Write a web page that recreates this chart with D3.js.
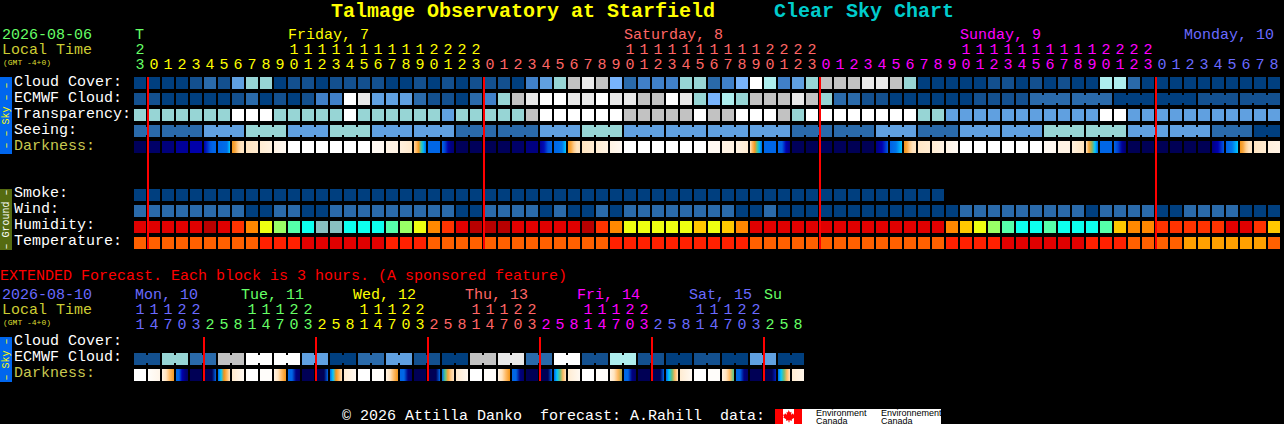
<!DOCTYPE html>
<html>
<head>
<meta charset="utf-8">
<title>Clear Sky Chart</title>
<script src="https://cdn.jsdelivr.net/npm/d3@7"></script>
<style>
body { margin: 0; background: #000; }
svg { display: block; }
text { font-family: "Liberation Mono", monospace; font-size: 15px; white-space: pre; }
.block { shape-rendering: crispEdges; }
</style>
</head>
<body>
<script>
// hourly forecast, one entry per block
var hours = [23,0,1,2,3,4,5,6,7,8,9,10,11,12,13,14,15,16,17,18,19,20,21,22,23,
	0,1,2,3,4,5,6,7,8,9,10,11,12,13,14,15,16,17,18,19,20,21,22,23,
	0,1,2,3,4,5,6,7,8,9,10,11,12,13,14,15,16,17,18,19,20,21,22,23,
	0,1,2,3,4,5,6,7,8];
var dayLabels = ["T", "Friday, 7", "Saturday, 8", "Sunday, 9", "Monday, 10"];
var dayLabelCols = [0, 11, 35, 59, 75];
var dayStartCols = [0, 1, 25, 49, 73];
var dayLabelColors = ["green", "yellow", "pink", "magenta", "blue"];

var cloudCover = [0,0,0,0,1,2,1,4,6,6,0,1,1,0,1,1,1,1,0,0,1,0,1,0,1,1,1,0,3,4,6,8,9,8,5,2,3,3,3,6,6,2,3,5,10,7,3,4,6,8,8,8,9,9,8,6,0,0,0,0,0,1,1,0,1,0,1,0,0,7,7,2,0,0,0,0,0,0,0,0,0,0];
var ecmwfCloud = [1,1,0,0,0,0,0,1,2,0,1,0,1,3,3,10,9,4,4,4,2,1,1,0,2,3,6,8,9,10,10,9,9,10,9,9,8,8,10,9,6,5,7,6,8,8,8,9,8,6,2,2,1,1,0,0,0,0,0,0,1,1,1,1,2,2,2,2,2,2,0,0,0,0,0,0,1,1,1,1,1,1];
var ecmwfGroups = [1,1,1,1,1,1,1,1,1,1,1,1,1,1,1,1,1,1,1,1,1,1,1,1,1,1,1,1,1,1,1,1,1,1,1,1,1,1,1,1,1,1,1,1,1,1,1,1,1,1,1,1,1,1,1,1,1,1,1,1,1,1,1,1,3,3,3,3,3,3];
var transparency = [6,6,6,6,6,6,6,10,10,10,6,6,6,6,6,10,6,6,6,6,6,6,4,6,6,6,6,6,8,10,10,10,10,10,10,8,8,8,8,8,10,8,8,10,10,10,8,6,10,10,10,10,10,10,10,10,6,6,4,4,4,4,4,4,4,4,4,4,4,10,10,4,4,4,4,4,4,4,4,4,4,4];
var seeing = [2,2,2,2,2,4,4,4,6,6,6,4,4,4,6,6,6,4,4,4,4,4,4,2,2,2,2,2,2,4,4,4,6,6,6,4,4,4,4,4,4,4,4,4,4,4,4,2,2,2,2,2,2,4,4,4,2,2,2,4,4,4,4,4,4,6,6,6,6,6,6,4,4,4,4,4,4,2,2,2,0,0];
var seeingGroups = [2,3,3,3,3,3,3,3,3,3,3,3,3,3,3,3,3,3,3,3,3,3,3,3,3,3,3,2];
var darkness = [
	[5.8],[5.5],[5.1],[4.5],[4.1],[4.1,3.4,2.6,2.3,2.3],[2.3,2.3,2.2,2.1,1],[-0.1,-0.6,-1.5,-2,-2],[-2,-2.4],[-2.5,-2.9],[-3,-3.5],
	[-4],[-4],[-4],[-4],[-4],[-4],[-3.5],[-3],[-2.8,-2.3],[-1.6,-1,-0.2,0.6,1.2,2.2],[2.3],[2.3,3,4.2,5,5.2],[5.8],[5.8],
	[5.9],[5.8],[5.5],[5],[4.5,3.8,2.6,2.3],[2.3,2.2,2,1],[-0.1,-0.6,-1.5,-2,-2],[-2,-2.5],[-2.5,-3],[-3,-3.5],
	[-4],[-4],[-4],[-4],[-4],[-4],[-3.5],[-3],[-3,-2.5],[-2,-1,-0.2,0.5,1.2,2.2],[2.3],[2.3,2.4,4,5],[5.8],[5.9],
	[5.8],[5.8],[5.9],[5.9],[5,4,2.5],[2.4,2,1],[-0.1,-0.6,-1.5,-2,-2],[-2.2,-2.5],[-2.5,-3],[-3,-3.6],
	[-4],[-4],[-4],[-4],[-4],[-4],[-3.5],[-3],[-2.8,-2],[-2,-0.5,0.3,1,2.2],[2.3],[2.3,3,4.5,5.5],[5.9],[5.9],
	[5.9],[5.9],[5.9],[5.9],[5,4,2.5],[2.4,2,1],[-0.1,-0.6,-1.5,-2,-2],[-2,-2.5],[-2.8,-3]
];
var smoke = [0,0,0,0,0,0,0,0,0,0,0,0,0,0,0,0,0,0,0,0,0,0,0,0,0,0,0,0,0,0,0,0,0,0,0,0,0,0,0,0,0,0,0,0,0,0,0,0,0,0,0,0,0,0,0,0,0,0];
var wind = [2,2,2,2,2,2,2,2,0,0,2,2,0,0,2,2,2,2,2,2,2,2,2,0,0,2,2,2,2,0,2,0,0,2,0,2,2,2,2,2,2,2,2,0,0,2,0,0,0,0,0,0,0,0,0,0,0,0,0,2,2,2,2,2,2,2,2,2,0,2,2,2,2,0,0,2,2,2,2,0,0,0];
var humidity = [1,1,1,1,1,0,1,2,3,5,6,7,8,9,9,8,8,8,7,6,5,3,2,1,0,0,0,1,1,1,1,1,0,2,3,5,5,5,5,5,4,5,4,3,1,1,1,1,1,1,1,1,1,1,1,1,1,1,3,4,5,6,7,8,8,7,8,8,8,7,4,3,3,2,2,2,2,2,1,1,2,4];
var temperature = [2,2,2,2,2,2,2,2,2,1,1,1,0,0,0,0,0,0,1,1,1,2,2,2,2,2,2,2,2,2,2,2,2,2,1,1,1,1,1,1,1,1,1,1,2,2,2,2,2,2,2,2,2,2,2,2,2,2,1,1,1,1,0,0,0,0,0,0,1,1,1,2,2,2,2,3,3,3,3,3,3,2];
var midnightCols = [1, 25, 49, 73];

// extended forecast, 3 hours per block
var extHours = [11,14,17,20,23,2,5,8,11,14,17,20,23,2,5,8,11,14,17,20,23,2,5,8,11,14,17,20,23,2,5,8,11,14,17,20,23,2,5,8,11,14,17,20,23,2,5,8];
var extDayLabels = ["Mon, 10", "Tue, 11", "Wed, 12", "Thu, 13", "Fri, 14", "Sat, 15", "Su"];
var extDayLabelCols = [0, 8, 16, 24, 32, 40, 45];
var extDayStartCols = [0, 5, 13, 21, 29, 37, 45];
var extDayColors = ["blue", "green", "yellow", "pink", "magenta", "blue", "green"];
var extCloud = [];
var extEcmwf = [1,1,6,6,2,2,8,8,10,10,10,10,4,4,0,0,2,2,4,4,1,1,0,0,8,8,9,9,2,2,10,10,1,1,7,7,1,1,0,0,1,1,0,0,4,4,0,0];
var extEcmwfGroups = [2,2,2,2,2,2,2,2,2,2,2,2,2,2,2,2,2,2,2,2,2,2,2,2];
var extDarkness = [
	[-4],[-3.8,-3.2],[-3,-2,-1,-0.2],[2.3,2.3,4,5,5.5],[5.9],[5.9,5.9,5.9,2.3],[2.3,1,-0.1,-1,-2],[-2.4,-3.5],
	[-4],[-3.8],[-3,-2,-1,-0.1],[2.3,2.3,5,5.5],[5.9],[5.9,5.9,5.9,2.3],[2.3,1,-0.1,-1,-2],[-2.5,-3.5],
	[-4],[-3.8],[-3,-2,-1,-0.1],[2.3,2.3,5,5.5],[5.9],[5.9,5.9,5.9,2.3],[2.3,0.5,-0.5,-1.5,-2],[-2.4,-3.5],
	[-4],[-3.8],[-3,-2,-1,-0.1],[2.3,2.3,5,5.5],[5.9],[5.9,5.9,5.9,2.3],[2.3,1,0.4,-1,-2],[-2.5,-3.5],
	[-4],[-3.8],[-3,-2,-1,0.2],[2.3,2.3,5,5.5],[5.9],[5.9,5.9,5.9,2.3],[2.3,1,0.4,-1,-2],[-2.5,-3.5],
	[-4],[-3.8],[-3,-2,-1,0.5],[2.3,2.3,5,5.5],[5.9],[5.9,5.9,5.9,3.5],[2.3,1,0.4,-1,-2],[-2.5,-3.2]
];
var extMidnightCols = [5, 13, 21, 29, 37, 45];

var colorNames = {green: "#66ff66", yellow: "#ffff00", pink: "#ff6666", magenta: "#ff00ff", blue: "#6a6aff"};

var cloudColor = d3.scaleOrdinal(d3.range(11),
	["#003f7f", "#13508f", "#2a6aaa", "#4080c8", "#60a0e0", "#78b4fc", "#97d5d5", "#aeeeee", "#c2c2c2", "#e9e9e9", "#ffffff"]);
var humidityColor = d3.scaleOrdinal(d3.range(10),
	["#b80000", "#e00000", "#ff3300", "#ff8800", "#ffc800", "#eeff11", "#99ff66", "#55ffaa", "#0dffee", "#88c0c0"]);
var temperatureColor = d3.scaleOrdinal(d3.range(4), ["#e00000", "#ff2000", "#ff6000", "#ffa000"]);
var darknessColor = d3.scaleLinear()
	.domain([6, 5.5, 5, 4.5, 4, 3, 2.3, 1.5, 1, 0.5, 0, -1, -2, -3, -4])
	.range(["#000050", "#000068", "#000080", "#000098", "#0000b0", "#0040d0", "#0066e6", "#0090f0", "#00c8ff", "#50c890", "#f09010", "#ffb860", "#ffe4c0", "#fff3e4", "#ffffff"]);

var svg = d3.select("body").append("svg").attr("width", 1284).attr("height", 424);
var defs = svg.append("defs");

function colScale(n) {
	return d3.scaleBand().domain(d3.range(n)).range([134, 134 + n * 14 - 2]).paddingInner(2 / 14);
}
var x = colScale(hours.length);
var xExt = colScale(extHours.length);

function label(px, py, str, color, size, weight) {
	return svg.append("text")
		.attr("x", px).attr("y", py)
		.attr("fill", color)
		.style("font-size", (size || 15) + "px")
		.style("font-weight", weight || "normal")
		.text(str);
}

function drawRow(xs, top, values, color, groups) {
	var g = svg.append("g").attr("class", "block");
	g.selectAll("rect").data(values).enter().append("rect")
		.attr("x", function(d, i) { return xs(i); })
		.attr("y", top)
		.attr("width", xs.bandwidth())
		.attr("height", 12)
		.attr("fill", function(d) { return color(d); });

	// blocks of one forecast period are joined by a short bridge
	if (!groups) return;
	var joins = [], col = 0;
	groups.forEach(function(n) {
		for (var j = 1; j < n; j++) joins.push(col + j - 1);
		col += n;
	});
	g.selectAll("rect.join").data(joins).enter().append("rect")
		.attr("class", "join")
		.attr("x", function(d) { return xs(d) + xs.bandwidth(); })
		.attr("y", top + 2)
		.attr("width", xs.step() - xs.bandwidth())
		.attr("height", 8)
		.attr("fill", function(d) { return color(values[d]); });
}

function drawDarkness(xs, top, values, name) {
	var gradients = defs.selectAll("linearGradient." + name).data(values).enter().append("linearGradient")
		.attr("class", name)
		.attr("id", function(d, i) { return name + i; });
	gradients.selectAll("stop").data(function(d) { return d; }).enter().append("stop")
		.attr("offset", function(d, i, all) { return all.length > 1 ? i / (all.length - 1) : 0; })
		.attr("stop-color", function(d) { return darknessColor(d); });
	svg.append("g").attr("class", "block").selectAll("rect").data(values).enter().append("rect")
		.attr("x", function(d, i) { return xs(i); })
		.attr("y", top)
		.attr("width", xs.bandwidth())
		.attr("height", 12)
		.attr("fill", function(d, i) { return "url(#" + name + i + ")"; });
}

function drawHours(xs, hourList, starts, colors, tensY, unitsY) {
	hourList.forEach(function(h, i) {
		var day = d3.bisectRight(starts, i) - 1;
		var c = colorNames[colors[day]];
		var cx = xs(i) + xs.bandwidth() / 2;
		if (h >= 10) label(cx, tensY, Math.floor(h / 10), c).attr("text-anchor", "middle");
		label(cx, unitsY, h % 10, c).attr("text-anchor", "middle");
	});
}

function drawMidnights(xs, cols, top, bottom) {
	svg.append("g").attr("class", "block").selectAll("rect").data(cols).enter().append("rect")
		.attr("x", function(d) { return xs(d) - 1; })
		.attr("y", top)
		.attr("width", 2)
		.attr("height", bottom - top)
		.attr("fill", "#ff0000");
}

function sidePanel(top, bottom, fill, textColor, str) {
	svg.append("rect").attr("class", "block")
		.attr("x", 0).attr("y", top).attr("width", 12).attr("height", bottom - top)
		.attr("fill", fill);
	svg.append("text")
		.attr("transform", "translate(9," + (top + bottom) / 2 + ") rotate(-90)")
		.attr("text-anchor", "middle")
		.attr("fill", textColor)
		.style("font-size", "10px")
		.text(str);
}

// title
label(331, 17, "Talmage Observatory at Starfield", "#ffff00", 20, "bold");
label(774, 17, "Clear Sky Chart", "#00cccc", 20, "bold");

// top header
label(2, 39, "2026-08-06", colorNames.green);
label(2, 54, "Local Time", "#cccc33");
label(3, 65, "(GMT -4+0)", "#dddd33", 8);
dayLabels.forEach(function(d, i) {
	label(x(dayLabelCols[i]) + (i == 0 ? 1 : 0), 39, d, colorNames[dayLabelColors[i]]);
});
drawHours(x, hours, dayStartCols, dayLabelColors, 54, 69);

// sky rows
var skyNames = ["Cloud Cover:", "ECMWF Cloud:", "Transparency:", "Seeing:", "Darkness:"];
skyNames.forEach(function(d, i) {
	label(14, 86 + i * 16, d, i == 4 ? "#c8c850" : "#ffffff");
});
sidePanel(77, 154, "#0066ee", "#ffff00", "\u2013 \u2013 Sky \u2013 \u2013");
drawRow(x, 77, cloudCover, cloudColor);
drawRow(x, 93, ecmwfCloud, cloudColor, ecmwfGroups);
drawRow(x, 109, transparency, cloudColor);
drawRow(x, 125, seeing, cloudColor, seeingGroups);
drawDarkness(x, 141, darkness, "dark");

// ground rows
var groundNames = ["Smoke:", "Wind:", "Humidity:", "Temperature:"];
groundNames.forEach(function(d, i) {
	label(14, 197 + i * 16, d, "#ffffff");
});
sidePanel(189, 250, "#556b10", "#ffffff", "\u2013 Ground \u2013");
drawRow(x, 189, smoke, cloudColor);
drawRow(x, 205, wind, cloudColor);
drawRow(x, 221, humidity, humidityColor);
drawRow(x, 237, temperature, temperatureColor);
drawMidnights(x, midnightCols, 77, 249);

// extended forecast
label(0, 280, "EXTENDED Forecast. Each block is 3 hours. (A sponsored feature)", "#ff0000");
label(2, 299, "2026-08-10", colorNames.blue);
label(2, 314, "Local Time", "#cccc33");
label(3, 325, "(GMT -4+0)", "#dddd33", 8);
extDayLabels.forEach(function(d, i) {
	label(xExt(extDayLabelCols[i]) + (i == 0 ? 1 : i == 6 ? 0 : -5), 299, d, colorNames[extDayColors[i]]);
});
drawHours(xExt, extHours, extDayStartCols, extDayColors, 314, 329);

["Cloud Cover:", "ECMWF Cloud:", "Darkness:"].forEach(function(d, i) {
	label(14, 345 + i * 16, d, i == 2 ? "#c8c850" : "#ffffff");
});
sidePanel(337, 382, "#0066ee", "#ffff00", "\u2013 Sky \u2013");
drawRow(xExt, 337, extCloud, cloudColor);
drawRow(xExt, 353, extEcmwf, cloudColor, extEcmwfGroups);
drawDarkness(xExt, 369, extDarkness, "extdark");
drawMidnights(xExt, extMidnightCols, 337, 381);

// footer
label(342, 420, "\u00a9 2026 Attilla Danko  forecast: A.Rahill  data:", "#ffffff");
svg.append("rect").attr("class", "block").attr("x", 775).attr("y", 409).attr("width", 166).attr("height", 15).attr("fill", "#ffffff");
svg.append("rect").attr("class", "block").attr("x", 775).attr("y", 409).attr("width", 8).attr("height", 15).attr("fill", "#ff0000");
svg.append("rect").attr("class", "block").attr("x", 794).attr("y", 409).attr("width", 8).attr("height", 15).attr("fill", "#ff0000");
svg.append("path")
	.attr("d", "M788.5 410l1.5 2.5 1.5-.7-.5 3 2-1.5.5 1.3 1.5.2-1 2 .8.7-3 1.8.3 1.4-2.6-.4v2h-1v-2l-2.6.4.3-1.4-3-1.8.8-.7-1-2 1.5-.2.5-1.3 2 1.5-.5-3 1.5.7z")
	.attr("fill", "#ff0000");
[[816, "Environment"], [881, "Environnement"]].forEach(function(d) {
	label(d[0], 416, d[1], "#000000", 9).style("font-family", "'Liberation Sans', sans-serif");
	label(d[0], 423.5, "Canada", "#000000", 9).style("font-family", "'Liberation Sans', sans-serif");
});
</script>
</body>
</html>
